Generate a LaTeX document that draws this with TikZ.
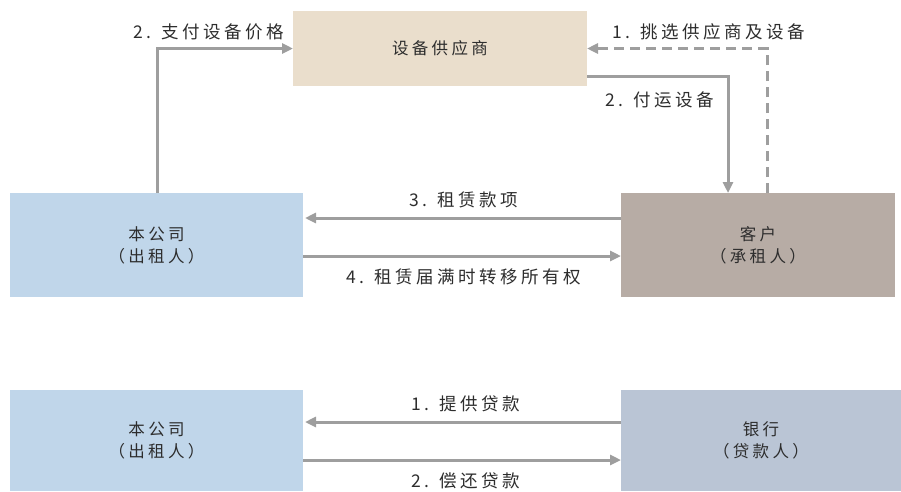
\documentclass[tikz,border=0pt]{standalone}
\usepackage{fontspec}
\setmainfont{Noto Sans CJK SC}
\newfontfamily\cjk[LetterSpace=20]{Noto Sans CJK SC}
\usetikzlibrary{arrows.meta}
\definecolor{supc}{RGB}{234,222,204}
\definecolor{bluec}{RGB}{192,214,234}
\definecolor{custc}{RGB}{183,172,165}
\definecolor{bankc}{RGB}{186,197,213}
\definecolor{arrc}{RGB}{158,158,158}
\definecolor{txtc}{RGB}{45,45,45}
\begin{document}
\begin{tikzpicture}[x=1pt,y=-1pt,
  box/.style={inner sep=0pt, outer sep=0pt, anchor=north west, align=center,
    font=\cjk\fontsize{16.5}{22}\selectfont, text=txtc},
  conn/.style={draw=arrc, line width=3pt, -{Triangle[length=11pt,width=10pt]}},
  dconn/.style={conn, dash pattern=on 10pt off 6pt},
  lbl/.style={inner sep=0pt, font=\cjk\fontsize{17.5}{20}\selectfont, text=txtc}]
\useasboundingbox (0,0) rectangle (901,491);
% boxes
\node[box, fill=supc, minimum width=294pt, minimum height=75pt] (sup) at (293,11) {设备供应商};
\node[box, fill=bluec, minimum width=293pt, minimum height=104pt] (co1) at (10,193) {本公司\\（出租人）};
\node[box, fill=custc, minimum width=274pt, minimum height=104pt] (cust) at (621,193) {客户\\（承租人）};
\node[box, fill=bluec, minimum width=293pt, minimum height=101pt] (co2) at (10,390) {本公司\\（出租人）};
\node[box, fill=bankc, minimum width=280pt, minimum height=101pt] (bank) at (621,390) {银行\\（贷款人）};
% connectors
\draw[conn] ([xshift=147pt]co1.north west) |- (sup.west);
\draw[dconn] ([xshift=146pt]cust.north west) |- (sup.east);
\draw[conn] ([yshift=-27.5pt]sup.east) -| ([xshift=107pt]cust.north west);
\draw[conn] ([yshift=27pt]cust.west) -- ([yshift=27pt,xshift=2pt]co1.east);
\draw[conn] ([yshift=-11pt]co1.east) -- ([yshift=-11pt]cust.west);
\draw[conn] ([yshift=18.5pt]bank.west) -- ([yshift=18.5pt,xshift=2pt]co2.east);
\draw[conn] ([yshift=-19.5pt]co2.east) -- ([yshift=-19.5pt]bank.west);
% labels
\node[lbl] (l1) at (209,32) {2. 支付设备价格};
\node[lbl] (l2) at (709,32) {1. 挑选供应商及设备};
\node[lbl] (l3) at (660,100) {2. 付运设备};
\node[lbl] (l4) at (464,200) {3. 租赁款项};
\node[lbl] (l5) at (464,277) {4. 租赁届满时转移所有权};
\node[lbl] (l6) at (466,404) {1. 提供贷款};
\node[lbl] (l7) at (466,481) {2. 偿还贷款};
\end{tikzpicture}
\end{document}
